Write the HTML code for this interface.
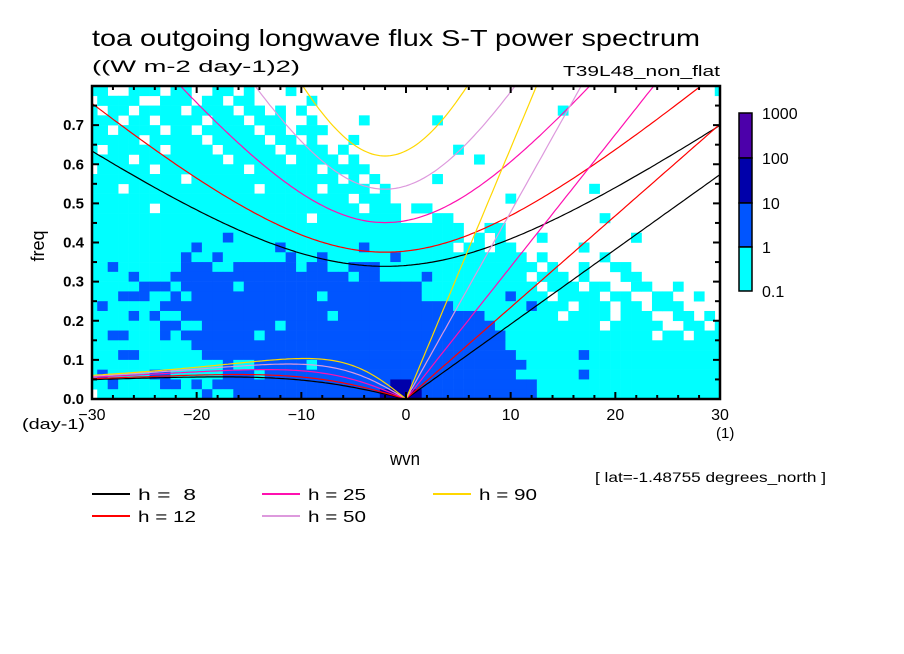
<!DOCTYPE html>
<html><head><meta charset="utf-8"><style>
html,body{margin:0;padding:0;background:#fff;}
svg{display:block;font-family:"Liberation Sans",sans-serif;}
</style></head><body>
<svg id="chart" width="904" height="654" viewBox="0 0 904 654">
<defs><clipPath id="pc"><rect x="92" y="86" width="628" height="313"/></clipPath></defs>
<rect width="904" height="654" fill="#fff"/>
<text x="92" y="46" font-size="23" textLength="608" lengthAdjust="spacingAndGlyphs" fill="#000">toa outgoing longwave flux S-T power spectrum</text>
<text x="92" y="72" font-size="17" textLength="208" lengthAdjust="spacingAndGlyphs" fill="#000">((W m-2 day-1)2)</text>
<text x="563" y="76" font-size="15" textLength="157" lengthAdjust="spacingAndGlyphs" fill="#000">T39L48_non_flat</text>
<g id="cells" clip-path="url(#pc)"></g>
<g id="curves" clip-path="url(#pc)"></g>
<g id="axes"></g>
<text x="44" y="246" font-size="18" text-anchor="middle" transform="rotate(-90 44 246)">freq</text>
<text x="390" y="465" font-size="18" textLength="30" lengthAdjust="spacingAndGlyphs">wvn</text>
<text x="22" y="429" font-size="15" textLength="63" lengthAdjust="spacingAndGlyphs">(day-1)</text>
<text x="716" y="438" font-size="15">(1)</text>
<text x="595" y="482" font-size="14" textLength="231" lengthAdjust="spacingAndGlyphs">[ lat=-1.48755 degrees_north ]</text>
<g id="colorbar"></g>
<g id="legend"></g>
</svg>
<script>
const NS="http://www.w3.org/2000/svg";
// heatmap: rows top (freq 0.8) to bottom (0.0); each row 61 cols for wvn -30..30; level 0..3
const rows=[
"1100111011001101000100000000000000000000000000000000000000001",
"0111100111011011000001000000000000000000000000000000000000000",
"1011011110111101101010000000000000000000000001000000000000000",
"1110110111101110111001000010000001000000000000000000000000000",
"1101111011011111011011100000000000000000000000000000000000000",
"1111101111101111101101000100000000000000000000000000000000000",
"1011111011110111110111101000000000010000000000000000000000000",
"1111011111111011111011110100000000000100000000000000000000000",
"0111110111111110111111011110000000000000000000000000000000000",
"1111111110111111111111110101000001000000000000000000000000000",
"1110111111111111011111011110100000000000000000001000000000000",
"1111111111111111111111111011100000000000100000000000000000000",
"1111110111111111111111111101110110000000000000000000000000000",
"1111111111111111111110111111110001100000000000000100000000000",
"1111111111111111111111111111111111110011000000000000000000000",
"1111111111111211111111111111111111110101000100000000100000000",
"1111111111211111112111111121111111101101100000010000000000000",
"1111111112112111111211211111121111111111110100000100000000000",
"1121111112221122222212211222111111111111111010010011000000000",
"1111211122222222222222222122111121111111110111010001100000000",
"1111122212222212222222222222222211111111111011101100110010000",
"1112221121222222222222122222222211111111211101111011001100100",
"1211111222222222222222222222222222211111112111011101101110000",
"1111212112222222222222212222222222222211111110111101110011010",
"1111111221122222221222222222222222222221111111111011111001101",
"1122111212222222122222222222222222222222111111111111110110111",
"1111111111222222222222222222222222222222111111111111111111111",
"1112211111122222222222222222222222222222211111121111111111111",
"1111111111111211222221222222222222222222221111111111111111111",
"1211112211111222122222222222222222222222211111121111111111111",
"1121111221212222222222222222233222222222222111111111111111111",
"0111111111121122222222222222333322222222222111111111111111111"];
const levelColors=["#ffffff","#00ffff","#0055ff","#0000aa","#4c00aa"];
const depths=[8,12,25,50,90];
const curveColors=["#000000","#ff0000","#ff10b0","#dd99dd","#ffd700"];
const xTicks=[-30,-20,-10,0,10,20,30];
const yTicks=[0,0.1,0.2,0.3,0.4,0.5,0.6,0.7];
const cbLabels=["1000","100","10","1","0.1"];

const X0=92,X1=720,Y0=399,Y1=86,KMIN=-30,KMAX=30,FMAX=0.8;
const xs=k=>X0+(k-KMIN)*(X1-X0)/(KMAX-KMIN);
const ys=f=>Y0-f*(Y0-Y1)/FMAX;
function mk(tag,attrs,parent){const e=document.createElementNS(NS,tag);for(const a in attrs)e.setAttribute(a,attrs[a]);parent.appendChild(e);return e;}

const cells=document.getElementById('cells');
const nr=rows.length;
rows.forEach((row,r)=>{
  const f1=FMAX*(1-r/nr), f0=FMAX*(1-(r+1)/nr);
  for(let c=0;c<61;c++){
    const v=+(row[c]||0); if(!v)continue;
    const k=KMIN+c;
    const xa=xs(k-0.5), xb=xs(k+0.5);
    const el=mk('rect',{x:xa.toFixed(2),y:ys(f1).toFixed(2),width:(xb-xa+0.3).toFixed(2),height:(ys(f0)-ys(f1)+0.3).toFixed(2),fill:levelColors[v]},cells);
    
    
  }
});

// equatorial wave dispersion curves
const beta=2.289e-11,a=6.371e6,toCpd=86400/(2*Math.PI),K0=-2;
const curves=document.getElementById('curves');
depths.forEach((h,i)=>{
  const c=Math.sqrt(9.81*h);
  const kel=[],ig=[],ros=[];
  for(let k=0;k<=30;k+=0.25){kel.push([k,c*k/a*toCpd]);}
  for(let k=-30;k<=30;k+=0.25){const kk=(k-K0)/a;ig.push([k,Math.sqrt(3*beta*c+c*c*kk*kk)*toCpd]);}
  for(let k=-30;k<=0;k+=0.25){const kk=k/a;ros.push([k,-beta*kk/(kk*kk+3*beta/c)*toCpd]);}
  [["kelvin",kel],["inertia-gravity",ig],["rossby",ros]].forEach(([nm,pts])=>{
    const el=mk('polyline',{points:pts.map(p=>xs(p[0]).toFixed(1)+','+ys(p[1]).toFixed(1)).join(' '),fill:'none',stroke:curveColors[i],'stroke-width':1.2},curves);
    
    
  });
});

// axes
const axes=document.getElementById('axes');
mk('rect',{x:X0,y:Y1,width:X1-X0,height:Y0-Y1,fill:'none',stroke:'#000','stroke-width':2.5},axes);
for(let k=KMIN;k<=KMAX;k+=2){
  const major=k%10===0, L=major?7:4;
  mk('line',{x1:xs(k),y1:Y0,x2:xs(k),y2:Y0-L,stroke:'#000','stroke-width':2},axes);
  mk('line',{x1:xs(k),y1:Y1,x2:xs(k),y2:Y1+L,stroke:'#000','stroke-width':2},axes);
}
for(let j=1;j<16;j++){
  const f=j*0.05, L=(j%2===0)?7:5;
  mk('line',{x1:X0,y1:ys(f),x2:X0+L,y2:ys(f),stroke:'#000','stroke-width':2},axes);
  mk('line',{x1:X1,y1:ys(f),x2:X1-L,y2:ys(f),stroke:'#000','stroke-width':2},axes);
}
xTicks.forEach(k=>{
  const t=mk('text',{x:xs(k),y:420,'font-size':16,'text-anchor':'middle'},axes);
  t.textContent=(k<0?'\u2212':'')+Math.abs(k);
  
  
});
yTicks.forEach(f=>{
  const t=mk('text',{x:84,y:ys(f)+5,'font-size':15,'text-anchor':'end','font-weight':'bold'},axes);
  t.textContent=f.toFixed(1);
  
  
});

// colorbar
const cb=document.getElementById('colorbar');
const cbY=[113,158,203,247,291];
for(let i=0;i<4;i++){
  const el=mk('rect',{x:739,y:cbY[i],width:13,height:cbY[i+1]-cbY[i],fill:levelColors[4-i],stroke:'#000','stroke-width':1.5},cb);
  
  
}
cbLabels.forEach((s,i)=>{
  const t=mk('text',{x:762,y:cbY[i]+6,'font-size':16},cb);
  t.textContent=s;
  
  
});

// legend
const lg=document.getElementById('legend');
const pos=[[92,494],[92,516],[262,494],[262,516],[433,494]];
depths.forEach((h,i)=>{
  const [x,y]=pos[i];
  const l=mk('line',{x1:x,y1:y,x2:x+38,y2:y,stroke:curveColors[i],'stroke-width':2},lg);
  
  
  const t=mk('text',{x:x+46,y:y+6,'font-size':16,textLength:58,lengthAdjust:'spacingAndGlyphs'},lg);
  t.setAttribute('style','white-space:pre');
  t.textContent='h = '+(h<10?' ':'')+h;
  
  
});
</script>
</body></html>
